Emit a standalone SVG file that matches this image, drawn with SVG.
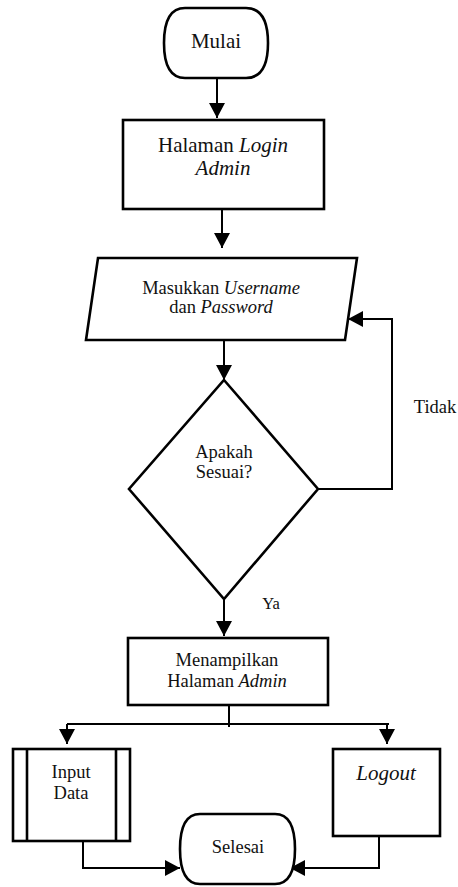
<svg xmlns="http://www.w3.org/2000/svg" width="458" height="887" viewBox="0 0 458 887" font-family="'Liberation Serif', 'Times New Roman', 'DejaVu Serif', serif">
<style>
.s{fill:#fff;stroke:#000;stroke-width:2.6}
.c{fill:none;stroke:#000;stroke-width:2}
text{font-family:'Liberation Serif','Times New Roman','DejaVu Serif',serif;fill:#111;text-anchor:middle}
.t{font-size:18.5px}
.b{font-size:21px}
.i{font-style:italic}
</style>
<defs>
<marker id="ah" markerWidth="16" markerHeight="16" refX="15" refY="8" orient="auto" markerUnits="userSpaceOnUse">
<path d="M0,0 L15,8 L0,16 Z" fill="#000"/>
</marker>
</defs>
<rect width="458" height="887" fill="#fff"/>
<g id="connectors">
<line class="c" x1="217" y1="79" x2="217" y2="118" marker-end="url(#ah)"/>
<line class="c" x1="222" y1="209" x2="222" y2="248" marker-end="url(#ah)"/>
<line class="c" x1="224" y1="341" x2="224" y2="380" marker-end="url(#ah)"/>
<polyline class="c" points="318,489 392,489 392,319 348,319" marker-end="url(#ah)"/>
<line class="c" x1="224" y1="599" x2="224" y2="636" marker-end="url(#ah)"/>
<line class="c" x1="229" y1="705" x2="229" y2="727"/>
<line class="c" x1="67" y1="724" x2="389" y2="724"/>
<line class="c" x1="67" y1="724" x2="67" y2="744" marker-end="url(#ah)"/>
<line class="c" x1="387" y1="724" x2="387" y2="744" marker-end="url(#ah)"/>
<polyline class="c" points="83,841 83,868 180,868" marker-end="url(#ah)"/>
<polyline class="c" points="379,836 379,868 290,868" marker-end="url(#ah)"/>
</g>
<g id="mulai">
<path class="s" d="M185,8 L246,8 Q268,8 268,43 Q268,78 246,78 L185,78 Q164,78 164,43 Q164,8 185,8 Z"/>
<text class="b" x="216" y="48">Mulai</text>
</g>
<g id="login">
<rect class="s" x="123" y="120" width="201" height="89"/>
<text class="b" x="223" y="152">Halaman <tspan class="i">Login</tspan></text>
<text class="b i" x="223" y="175">Admin</text>
</g>
<g id="input">
<polygon class="s" points="98,258 357,258 345,340 86,340"/>
<text class="t" x="221" y="294">Masukkan <tspan class="i">Username</tspan></text>
<text class="t" x="221" y="313">dan <tspan class="i">Password</tspan></text>
</g>
<g id="decision">
<polygon class="s" points="224,380 318,489 224,599 129,489"/>
<text class="t" x="224" y="458">Apakah</text>
<text class="t" x="224" y="478">Sesuai?</text>
</g>
<g id="labels">
<text class="t" x="435" y="413">Tidak</text>
<text x="271" y="609" style="font-size:16.5px">Ya</text>
</g>
<g id="admin">
<rect class="s" x="128" y="638" width="200" height="67"/>
<text class="t" x="227" y="666">Menampilkan</text>
<text class="t" x="227" y="687">Halaman <tspan class="i">Admin</tspan></text>
</g>
<g id="inputdata">
<rect class="s" x="13" y="749" width="117" height="92"/>
<line class="s" x1="27" y1="749" x2="27" y2="841"/>
<line class="s" x1="116" y1="749" x2="116" y2="841"/>
<text class="t" x="71" y="778">Input</text>
<text class="t" x="71" y="799">Data</text>
</g>
<g id="logout">
<rect class="s" x="333" y="749" width="107" height="87"/>
<text class="b i" x="386" y="780">Logout</text>
</g>
<g id="selesai">
<path class="s" d="M200,814 L275,814 Q295,814 295,849 Q295,884 275,884 L200,884 Q180,884 180,849 Q180,814 200,814 Z"/>
<text class="t" x="238" y="853">Selesai</text>
</g>
</svg>
